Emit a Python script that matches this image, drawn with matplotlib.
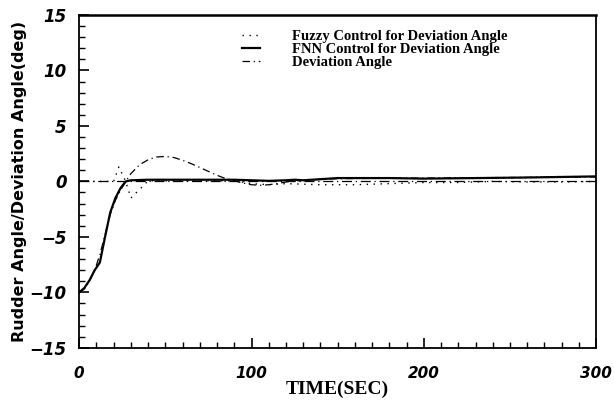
import matplotlib
matplotlib.use('Agg')
import matplotlib.pyplot as plt
from matplotlib.ticker import MultipleLocator

# deviation angle (dash-dot)
t_dev = [0, 3, 6, 9, 12, 15, 18, 21, 24, 27, 30, 35, 40, 45, 50, 55, 60, 65, 70, 75,
         80, 85, 90, 95, 100, 105, 110, 115, 120, 130, 150, 200, 250, 300]
dev = [-10, -9.7, -9.0, -8.0, -6.6, -4.8, -3.0, -1.7, -0.8, 0.0, 0.7, 1.5, 1.95, 2.2, 2.25,
       2.15, 1.9, 1.6, 1.25, 0.9, 0.55, 0.25, 0.05, -0.15, -0.3, -0.35, -0.3, -0.2, -0.05,
       0.1, 0.25, 0.3, 0.35, 0.4]

# FNN control for deviation angle (solid)
t_fnn = [0, 3, 6, 9, 12, 15, 18, 21, 24, 27, 30, 40, 60, 80, 90, 100, 110, 120, 125,
         130, 150, 180, 200, 230, 260, 300]
fnn = [-10, -9.6, -8.9, -8.0, -7.3, -5.0, -2.8, -1.5, -0.6, 0.0, 0.1, 0.15, 0.15, 0.15,
       0.15, 0.1, 0.05, 0.1, 0.15, 0.1, 0.3, 0.3, 0.25, 0.3, 0.35, 0.45]

# fuzzy control for deviation angle (dotted)
t_fuz = [0, 10, 20, 23, 27, 30, 40, 60, 90, 100, 110, 120, 140, 160, 180, 200, 220, 240,
         260, 280, 300]
fuz = [0.0, 0.0, 0.0, 1.3, 0.0, -1.5, 0.05, 0.05, 0.05, -0.2, -0.3, -0.2, -0.3, -0.3, -0.2,
       -0.1, -0.1, 0.0, -0.05, -0.05, 0.0]

yticks = [-15, -10, -5, 0, 5, 10, 15]
xticks = [0, 100, 200, 300]

fig = plt.figure(figsize=(6.14, 4.04), dpi=100)
ax = fig.add_axes([0.129, 0.139, 0.842, 0.824])

ax.plot(t_fuz, fuz, color='black', linestyle=(0, (1, 4)), linewidth=1.0,
        label='Fuzzy Control for Deviation Angle')
ax.plot(t_fnn, fnn, color='black', linestyle='-', linewidth=1.6,
        label='FNN Control for Deviation Angle')
ax.plot(t_dev, dev, color='black', linestyle=(0, (6, 3, 1, 3)), linewidth=0.9,
        label='Deviation Angle')
ax.axhline(0, color='black', linestyle=(0, (8, 3, 1, 3)), linewidth=0.9)

ax.set_xlim(0, 300)
ax.set_ylim(-15, 15)
ax.set_xticks(xticks)
ax.set_yticks(yticks)
ax.set_xticklabels([str(v) for v in xticks], fontstyle='italic', fontweight='bold',
                   fontsize=11)
ax.set_yticklabels([str(v).replace('-', '\u2212') for v in yticks], fontstyle='italic',
                   fontweight='bold', fontsize=12)
ax.xaxis.set_minor_locator(MultipleLocator(10))
ax.yaxis.set_minor_locator(MultipleLocator(1))
ax.tick_params(which='both', direction='in', top=False, right=False)
ax.tick_params(which='major', length=7, width=1.2)
ax.tick_params(which='minor', length=4, width=1)
ax.tick_params(axis='x', which='major', pad=13)
ax.tick_params(axis='y', which='major', pad=9)

for s in ax.spines.values():
    s.set_linewidth(1.3)
ax.spines['top'].set_linewidth(1.8)
ax.spines['right'].set_linestyle((0, (4, 1)))

ax.set_xlabel('TIME(SEC)', fontfamily='Liberation Serif', fontweight='bold',
              fontsize=14, labelpad=0)
ax.set_ylabel('Rudder Angle/Deviation Angle(deg)', fontweight='bold', fontsize=11.5,
              labelpad=2)

leg = ax.legend(loc='upper left', bbox_to_anchor=(0.29, 0.995), frameon=False,
                prop={'family': 'Liberation Serif', 'weight': 'bold', 'size': 10.5},
                handlelength=1.2, labelspacing=0.0, handletextpad=2.2)

fig.savefig('out.png', dpi=100)
